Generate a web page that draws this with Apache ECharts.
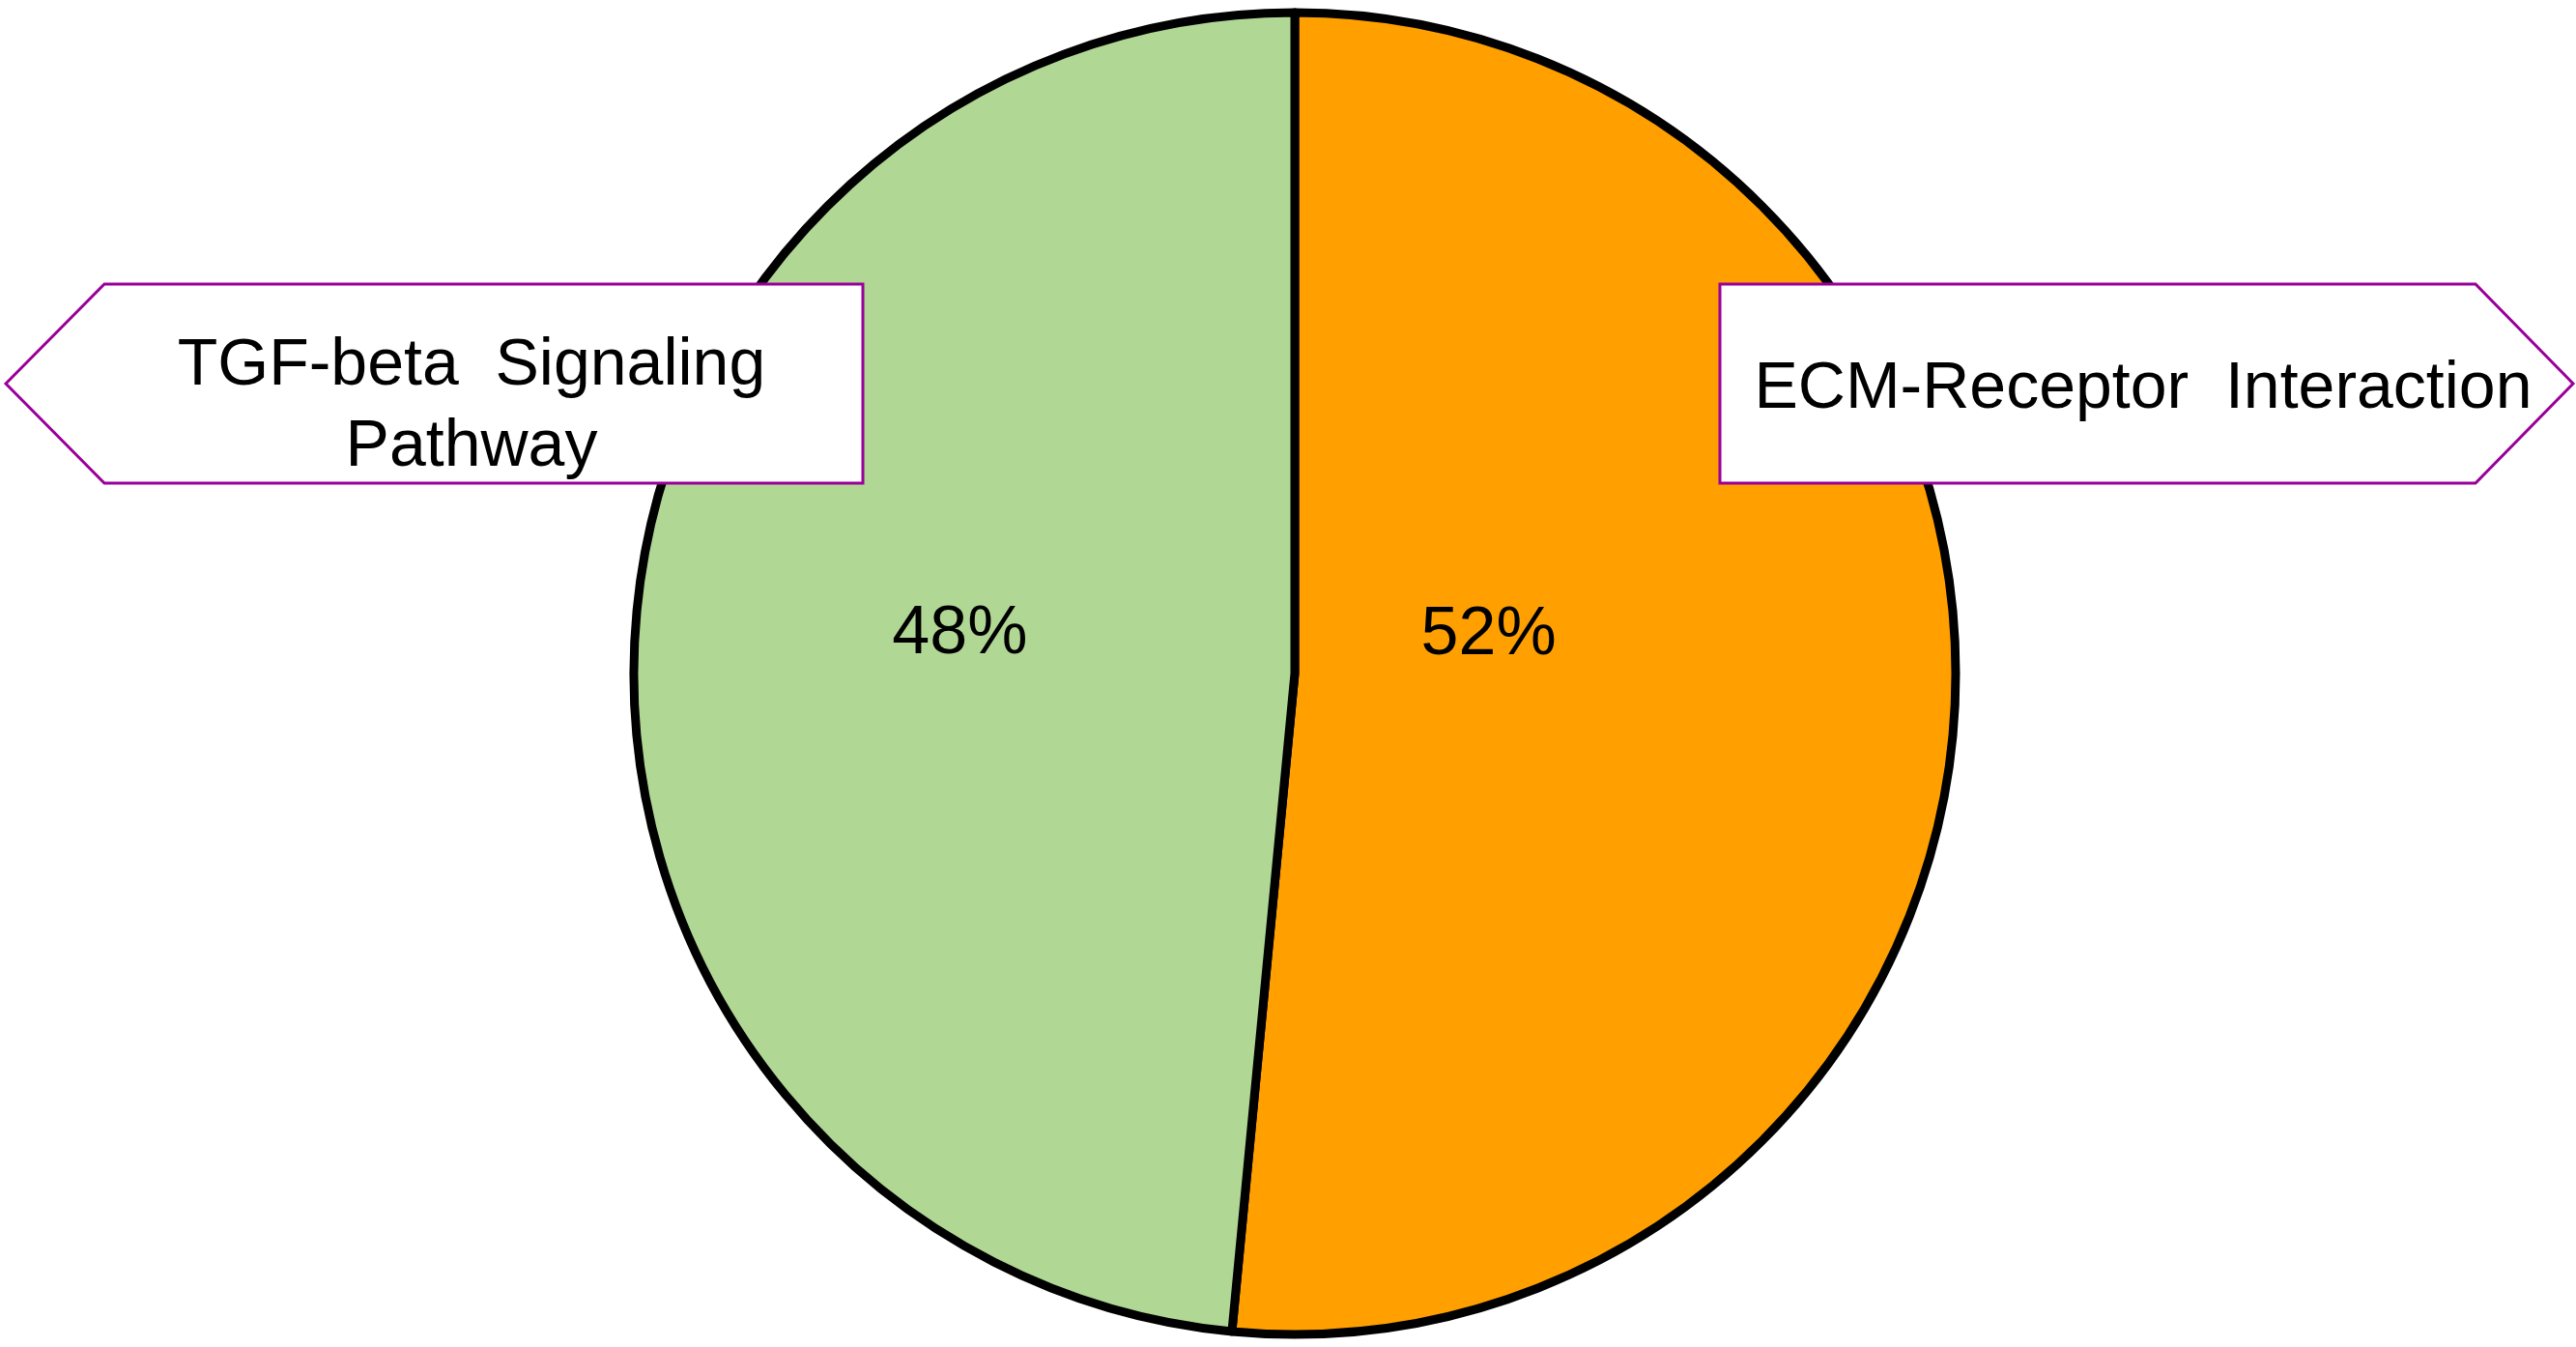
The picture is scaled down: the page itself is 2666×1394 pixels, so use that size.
<!DOCTYPE html>
<html>
<head>
<meta charset="utf-8">
<script src="https://cdn.jsdelivr.net/npm/echarts@6/dist/echarts.min.js"></script>
<style>
  html, body { margin: 0; padding: 0; background: #fff; }
  #chart { width: 2666px; height: 1394px; }
</style>
</head>
<body>
<div id="chart"></div>
<script>
// data (counts giving 52% / 48%)
const categories = ['ECM-Receptor Interaction', 'TGF-beta Signaling Pathway']
const counts = [17, 16]
const sliceColors = ['#FF9F00', '#B0D794']
// text shown in the arrow callouts
const calloutLabels = ['ECM-Receptor  Interaction', 'TGF-beta  Signaling\nPathway']

const FONT = '"Liberation Sans", Arial, sans-serif'
const chart = echarts.init(document.getElementById('chart'))

// label nudges so the percentages sit where the original has them
const labelOffsets = [[-144, -56], [-2, -24]]

const option = {
  animation: false,
  series: [
    {
      type: 'pie',
      center: [1340, 697],
      radius: 684,
      startAngle: 90,
      clockwise: true,
      silent: true,
      itemStyle: {
        borderColor: '#000',
        borderWidth: 9
      },
      label: {
        show: true,
        position: 'inside',
        color: '#000',
        fontSize: 70,
        fontFamily: FONT,
        formatter: (p) => Math.round(p.percent) + '%'
      },
      labelLine: { show: false },
      data: categories.map((name, i) => ({
        name,
        value: counts[i],
        itemStyle: { color: sliceColors[i] },
        label: { offset: labelOffsets[i] }
      }))
    }
  ],
  graphic: [
    {
      type: 'polygon',
      z: 100,
      shape: { points: [[6, 397], [108, 294], [893, 294], [893, 500], [108, 500]] },
      style: { fill: '#fff', stroke: '#990099', lineWidth: 3 }
    },
    {
      type: 'text',
      z: 101,
      style: {
        text: calloutLabels[1],
        x: 488,
        y: 421,
        fill: '#000',
        fontSize: 68,
        fontFamily: FONT,
        lineHeight: 84,
        align: 'center',
        verticalAlign: 'middle'
      }
    },
    {
      type: 'polygon',
      z: 100,
      shape: { points: [[1780, 294], [2562, 294], [2663, 397], [2562, 500], [1780, 500]] },
      style: { fill: '#fff', stroke: '#990099', lineWidth: 3 }
    },
    {
      type: 'text',
      z: 101,
      style: {
        text: calloutLabels[0],
        x: 2218,
        y: 403,
        fill: '#000',
        fontSize: 68,
        fontFamily: FONT,
        align: 'center',
        verticalAlign: 'middle'
      }
    }
  ]
}

chart.setOption(option)
</script>
</body>
</html>
